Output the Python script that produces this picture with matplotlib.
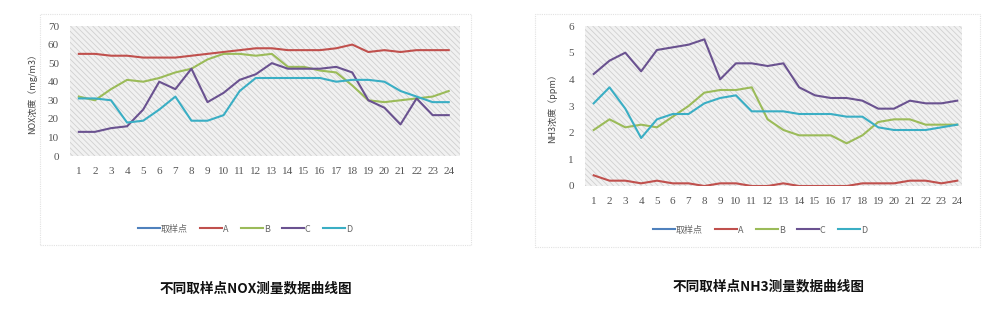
import matplotlib
matplotlib.use('Agg')
import matplotlib.pyplot as plt
from matplotlib.patches import Rectangle

plt.rcParams['font.family'] = ['Noto Sans CJK SC', 'DejaVu Sans']
plt.rcParams['hatch.linewidth'] = 0.6

points = list(range(1, 25))
series_names = ['A', 'B', 'C', 'D']

nox_a = [55, 55, 54, 54, 53, 53, 53, 54, 55, 56, 57, 58, 58, 57, 57, 57, 58, 60, 56, 57, 56, 57, 57, 57]
nox_b = [32, 30, 36, 41, 40, 42, 45, 47, 52, 55, 55, 54, 55, 48, 48, 46, 45, 38, 30, 29, 30, 31, 32, 35]
nox_c = [13, 13, 15, 16, 25, 40, 36, 47, 29, 34, 41, 44, 50, 47, 47, 47, 48, 45, 30, 26, 17, 31, 22, 22]
nox_d = [31, 31, 30, 18, 19, 25, 32, 19, 19, 22, 35, 42, 42, 42, 42, 42, 40, 41, 41, 40, 35, 32, 29, 29]

nh3_a = [0.4, 0.2, 0.2, 0.1, 0.2, 0.1, 0.1, 0.0, 0.1, 0.1, 0.0, 0.0, 0.1, 0.0, 0.0, 0.0, 0.0, 0.1, 0.1, 0.1, 0.2, 0.2, 0.1, 0.2]
nh3_b = [2.1, 2.5, 2.2, 2.3, 2.2, 2.6, 3.0, 3.5, 3.6, 3.6, 3.7, 2.5, 2.1, 1.9, 1.9, 1.9, 1.6, 1.9, 2.4, 2.5, 2.5, 2.3, 2.3, 2.3]
nh3_c = [4.2, 4.7, 5.0, 4.3, 5.1, 5.2, 5.3, 5.5, 4.0, 4.6, 4.6, 4.5, 4.6, 3.7, 3.4, 3.3, 3.3, 3.2, 2.9, 2.9, 3.2, 3.1, 3.1, 3.2]
nh3_d = [3.1, 3.7, 2.9, 1.8, 2.5, 2.7, 2.7, 3.1, 3.3, 3.4, 2.8, 2.8, 2.8, 2.7, 2.7, 2.7, 2.6, 2.6, 2.2, 2.1, 2.1, 2.1, 2.2, 2.3]

colors = ['#c0504d', '#9bbb59', '#6a5290', '#3aaec4']
blue = '#4f81bd'

W, H = 1000, 333
fig = plt.figure(figsize=(10, 3.33), dpi=100)


def box(x0, y0, x1, y1):
    # pixel box -> figure fraction [left, bottom, width, height]
    return [x0 / W, 1 - y1 / H, (x1 - x0) / W, (y1 - y0) / H]


def frame(x0, y0, x1, y1):
    l, b, w, h = box(x0, y0, x1, y1)
    fig.patches.append(Rectangle((l, b), w, h, transform=fig.transFigure,
                                 fill=False, edgecolor='#e2e2e2', lw=0.8, ls=(0, (1, 1))))


def panel(rect, data, ymax, ystep, xlim, ylabel, legend_xy, caption, caption_xy):
    ax = fig.add_axes(rect)
    ax.add_patch(Rectangle((0, 0), 1, 1, transform=ax.transAxes, facecolor='#f1f1f1',
                           edgecolor='#d0d0d0', hatch='\\\\\\\\\\\\', lw=0, zorder=0))
    ax.plot([], [], color=blue, lw=1.5, label='取样点')
    for vals, c, name in zip(data, colors, series_names):
        ax.plot(points, vals, color=c, lw=1.5, label=name, zorder=3)
    ax.set_xlim(*xlim)
    ax.set_ylim(0, ymax)
    ax.set_xticks(points)
    ax.set_yticks(range(0, int(ymax) + 1, ystep))
    for s in ax.spines.values():
        s.set_visible(False)
    ax.tick_params(length=0, labelsize=8, colors='#555555', pad=8)
    for t in ax.get_xticklabels() + ax.get_yticklabels():
        t.set_family(['Liberation Serif', 'DejaVu Serif'])
    ax.set_ylabel(ylabel, fontsize=6.5, color='#444444', labelpad=8)
    fig.legend(handles=ax.get_lines(), loc='center', bbox_to_anchor=legend_xy,
               ncol=5, frameon=False, fontsize=6.5, labelcolor='#666666',
               handlelength=2.4, handletextpad=0.1, columnspacing=1.4)
    fig.text(caption_xy[0], caption_xy[1], caption, ha='center', va='center',
             fontsize=9.8, fontweight='bold', color='#111111')
    return ax


frame(40, 14, 471, 245)
frame(535, 14, 980, 247)

panel(box(70, 26, 460, 156), [nox_a, nox_b, nox_c, nox_d], 70, 10, (0.45, 24.7),
      'NOX浓度（mg/m3）', (245 / W, 1 - 229 / H),
      '不同取样点NOX测量数据曲线图', (256 / W, 1 - 288 / H))

panel(box(585, 26, 962, 186), [nh3_a, nh3_b, nh3_c, nh3_d], 6, 1, (0.45, 24.3),
      'NH3浓度（ppm）', (760 / W, 1 - 230 / H),
      '不同取样点NH3测量数据曲线图', (769 / W, 1 - 286 / H))

fig.savefig('out.png', dpi=100, facecolor='white')
